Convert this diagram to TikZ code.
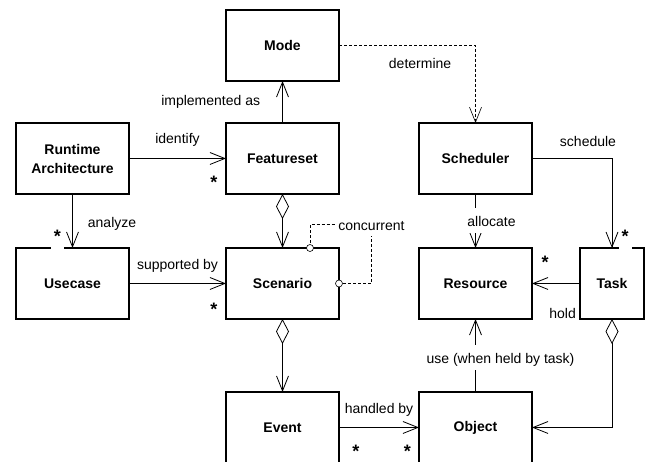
\documentclass[tikz,border=0pt]{standalone}
\usepackage{fontspec}
\setmainfont{Liberation Sans}
\usetikzlibrary{arrows.meta,positioning}

\begin{document}
\begin{tikzpicture}[
    font=\fontsize{14}{18}\selectfont,
    node distance=54pt and 97pt,
    cls/.style={rectangle, draw, line width=1.2pt, minimum width=113pt, minimum height=71pt, align=center, outer sep=0pt, font=\fontsize{14}{19}\selectfont\bfseries},
    assoc/.style={-{Straight Barb[length=15pt,width=12pt]}, line width=0.8pt},
    aggr/.style={{Diamond[open,length=25pt,width=13pt]}-{Straight Barb[length=15pt,width=12pt]}, line width=0.8pt},
    dep/.style={line width=0.6pt, dash pattern=on 3pt off 2pt},
    lbl/.style={inner sep=2pt, text height=10pt, text depth=3pt},
    online/.style={lbl, fill=white, text height=14pt, inner ysep=4pt},
    mult/.style={anchor=base, fill=white, inner sep=3pt, text depth=5pt, font=\fontsize{18}{18}\selectfont\bfseries},
    port/.style={circle, draw, fill=white, line width=0.6pt, inner sep=0pt, minimum size=7pt}
]
\useasboundingbox (0,0) rectangle (649pt,-462pt);

% Row 1: runtime, featureset, scheduler
\node[cls] (runtime) at (72.5pt,-158.5pt) {Runtime\\Architecture};
\node[cls, right=of runtime] (featureset) {Featureset};
\node[cls, right=80pt of featureset] (scheduler) {Scheduler};

% Top: mode
\node[cls, above=42pt of featureset] (mode) {Mode};

% Row 2: usecase, scenario, resource, task
\node[cls, below=of runtime] (usecase) {Usecase};
\node[cls, below=of featureset] (scenario) {Scenario};
\node[cls, below=of scheduler] (resource) {Resource};
\node[cls, minimum width=64pt, right=48pt of resource] (task) {Task};

% Row 3: event and object (cut off at the bottom)
\node[cls, below=73pt of scenario] (event) {Event};
\node[cls, below=73pt of resource] (object) {Object};

% Associations - left part
\draw[assoc] (featureset) -- node[lbl, left=20pt] {implemented as} (mode);
\draw[assoc] (runtime) -- node[lbl, above=10pt] {identify} (featureset);
\draw[assoc] (runtime) -- node[lbl, right=13pt, pos=0.55] {analyze} (usecase);
\draw[assoc] (usecase) -- node[lbl, above=9pt] {supported by} (scenario);
\draw[aggr] (featureset) -- (scenario);
\draw[aggr] (scenario) -- (event);
\draw[assoc] (event) -- node[lbl, above=9pt] {handled by} (object);

% Associations - right part
\draw[dep, -{Straight Barb[length=15pt,width=12pt]}] (mode.east) -| node[lbl, pos=0.625, left=22pt] {determine} (scheduler.north);
\draw[assoc] (scheduler.east) -| node[lbl, pos=0.35, above=7pt] {schedule} (task.north);
\draw[assoc] (scheduler) -- node[online, xshift=16pt] {allocate} (resource);
\draw[assoc] (task) -- (resource);
\draw[assoc] (object) -- node[online, pos=0.47, xshift=25pt] {use (when held by task)} (resource);
\draw[aggr] (task.south) |- (object.east);
\node[lbl, anchor=base east] (hold) at ([xshift=-2pt]task.south west) {hold};

% Concurrent scenarios
\coordinate (cfrom) at ([xshift=27.5pt]scenario.north);
\coordinate (cturn) at ([xshift=32.5pt,yshift=59pt]scenario.east);
\draw[dep] (cfrom) |- (cturn) node[lbl, fill=white, yshift=-3pt] (concur) {concurrent} |- (scenario.east);
\node[port] (cfromport) at (cfrom) {};
\node[port] (ctoport) at (scenario.east) {};

% Multiplicities
\node[mult] (m1) at ([xshift=-12pt,yshift=5pt]featureset.south west) {*};
\node[mult] (m2) at ([xshift=-15pt,yshift=5pt]usecase.north) {*};
\node[mult] (m3) at ([xshift=-12pt,yshift=3pt]scenario.south west) {*};
\node[mult] (m4) at ([xshift=13pt,yshift=5pt]task.north) {*};
\node[mult] (m5) at ([xshift=13pt,yshift=-21pt]resource.north east) {*};
\node[mult] (m6) at ([xshift=17pt,yshift=5.5pt]event.south east) {*};
\node[mult] (m7) at ([xshift=-11.5pt,yshift=5.5pt]object.south west) {*};

\end{tikzpicture}
\end{document}
